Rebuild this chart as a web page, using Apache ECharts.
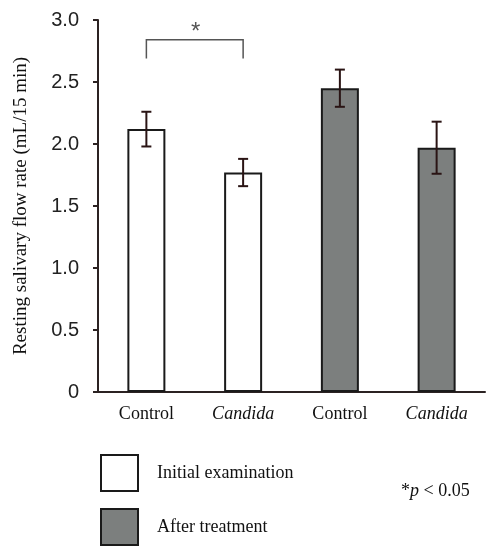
<!DOCTYPE html>
<html><head><meta charset="utf-8">
<script src="https://cdn.jsdelivr.net/npm/echarts@6/dist/echarts.min.js"></script>
<style>html,body{margin:0;padding:0;background:#fff}#c{width:502px;height:550px}</style>
</head><body><div id="c"></div>
<script>
const categories = ['Control', 'Candida', 'Control', 'Candida'];
const initialValues = [2.12, 1.77, '-', '-'];
const afterValues = ['-', '-', 2.45, 1.97];
const means = [2.12, 1.77, 2.45, 1.97];
const errors = [0.14, 0.11, 0.15, 0.21];
const yTicks = [0, 0.5, 1.0, 1.5, 2.0, 2.5, 3.0];
const bracket = { from: 0, to: 1, top: 2.84, bottom: 2.69, label: '*' };

const chart = echarts.init(document.getElementById('c'));
const serif = "'Liberation Serif', 'Times New Roman', serif";
const sans = "'Liberation Sans', Arial, sans-serif";
const dark = '#2b2222';

const errData = means.map((m, i) => [i, m - errors[i], m + errors[i]]);
const legendText = { fontFamily: serif, fontSize: 18, color: '#111', padding: [0, 0, 0, 14] };

chart.setOption({
  animation: false,
  grid: { left: 98, right: 17, top: 20, bottom: 158, outerBoundsMode: 'none', containLabel: false },
  legend: [
    { left: 95, top: 449, itemWidth: 37, itemHeight: 36, icon: 'rect',
      textStyle: legendText, data: ['Initial examination'] },
    { left: 95, top: 503, itemWidth: 37, itemHeight: 36, icon: 'rect',
      textStyle: legendText, data: ['After treatment'] }
  ],
  xAxis: {
    type: 'category', data: categories,
    axisLine: { lineStyle: { color: dark, width: 2 } },
    axisTick: { show: false },
    axisLabel: {
      margin: 13,
      formatter: (v) => v === 'Candida' ? '{i|' + v + '}' : '{n|' + v + '}',
      rich: {
        n: { fontFamily: serif, fontSize: 18, color: '#111' },
        i: { fontFamily: serif, fontSize: 18, fontStyle: 'italic', color: '#111' }
      }
    }
  },
  yAxis: {
    type: 'value', min: yTicks[0], max: yTicks[yTicks.length - 1], interval: 0.5,
    name: 'Resting salivary flow rate (mL/15 min)', nameLocation: 'middle', nameGap: 67,
    nameTextStyle: { fontFamily: serif, fontSize: 19, color: '#111' },
    axisLine: { show: true, lineStyle: { color: dark, width: 2 } },
    axisTick: { show: true, inside: false, length: 5, lineStyle: { color: dark, width: 2 } },
    splitLine: { show: false },
    axisLabel: {
      margin: 19, fontFamily: sans, fontSize: 20, color: '#222',
      formatter: (v) => v === 0 ? '0' : v.toFixed(1)
    }
  },
  series: [
    { name: 'Initial examination', type: 'bar', stack: 'g', barWidth: 38, data: initialValues,
      itemStyle: { color: '#ffffff', borderColor: '#1a1a1a', borderWidth: 2 } },
    { name: 'After treatment', type: 'bar', stack: 'g', barWidth: 38, data: afterValues,
      itemStyle: { color: '#7c7f7e', borderColor: '#1a1a1a', borderWidth: 2 } },
    { type: 'custom', name: 'err', data: errData, z: 10,
      renderItem: (params, api) => {
        const x = api.value(0);
        const lo = api.coord([x, api.value(1)]);
        const hi = api.coord([x, api.value(2)]);
        const w = 5;
        const style = { stroke: '#2a1414', lineWidth: 2 };
        return { type: 'group', children: [
          { type: 'line', shape: { x1: lo[0], y1: lo[1], x2: hi[0], y2: hi[1] }, style },
          { type: 'line', shape: { x1: lo[0] - w, y1: lo[1], x2: lo[0] + w, y2: lo[1] }, style },
          { type: 'line', shape: { x1: hi[0] - w, y1: hi[1], x2: hi[0] + w, y2: hi[1] }, style }
        ]};
      } },
    { type: 'custom', name: 'bracket', data: [[bracket.from, bracket.to, bracket.top, bracket.bottom]], z: 10,
      renderItem: (params, api) => {
        const a = api.coord([api.value(0), api.value(2)]);
        const b = api.coord([api.value(1), api.value(2)]);
        const yb = api.coord([api.value(0), api.value(3)])[1];
        const style = { stroke: '#555', lineWidth: 1.5, fill: null };
        return { type: 'group', children: [
          { type: 'polyline', shape: { points: [[a[0], yb], [a[0], a[1]], [b[0], b[1]], [b[0], yb]] }, style },
          { type: 'text', x: (a[0] + b[0]) / 2 + 1, y: a[1] - 19,
            style: { text: bracket.label, fill: '#555', font: "24px 'Liberation Sans', Arial", textAlign: 'center', textVerticalAlign: 'top' } }
        ]};
      } }
  ],
  graphic: [
    { type: 'text', left: 401, top: 482,
      style: { text: '{a|*}{p|p}{a| < 0.05}', rich: {
        a: { fontFamily: serif, fontSize: 18, fill: '#111' },
        p: { fontFamily: serif, fontSize: 18, fontStyle: 'italic', fill: '#111' } } } }
  ]
});
</script></body></html>
